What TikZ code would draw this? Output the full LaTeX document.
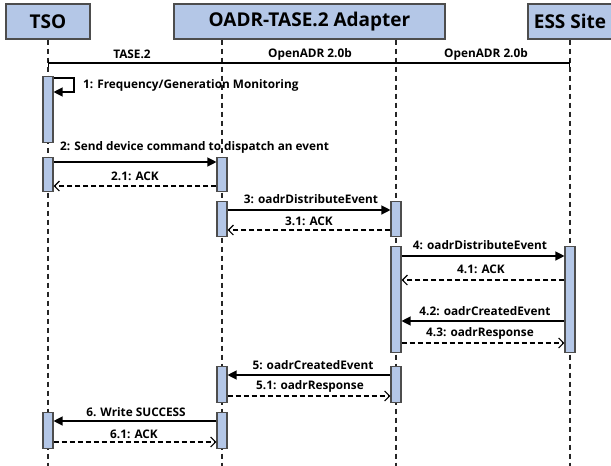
\documentclass[tikz,border=0pt]{standalone}
\usepackage{fontspec}
\setmainfont{Open Sans}
\usetikzlibrary{arrows.meta}
\definecolor{boxfill}{HTML}{B4C7E7}
\definecolor{boxline}{HTML}{4D4D4D}

\begin{document}
\begin{tikzpicture}[x=1pt,y=-1pt,
  head/.style={draw=boxline, line width=1.2pt, fill=boxfill, inner sep=0pt,
    minimum height=35pt, font=\fontsize{19}{21}\selectfont\bfseries},
  act/.style={draw=boxline, line width=1.1pt, fill=boxfill, minimum width=10pt,
    inner sep=0pt, anchor=north},
  lifeline/.style={draw=black!85, line width=1.1pt, dash pattern=on 5pt off 4pt},
  call/.style={line width=1.2pt, -{Triangle[length=9pt,width=9pt]}},
  reply/.style={line width=1.2pt, dash pattern=on 5pt off 3pt,
    -{Straight Barb[length=5pt,width=10pt,line width=1.2pt]}},
  lbl/.style={font=\fontsize{11.8}{13}\selectfont\bfseries, inner sep=0pt},
]
\useasboundingbox (0,0) rectangle (611,466);

% participants
\node[head, minimum width=84pt]  (tso) at (48,21.5)    {TSO};
\node[head, minimum width=271pt] (adp) at (309.5,21.5) {OADR-TASE.2 Adapter};
\node[head, minimum width=84pt]  (ess) at (570,21.5)   {ESS Site};

% lifelines
\coordinate (tsoEnd) at (48,466);
\coordinate (adpLEnd) at (222,466);
\coordinate (adpREnd) at (396,466);
\coordinate (essEnd) at (570,466);
\draw[lifeline] (tso.south) -- (tsoEnd);
\draw[lifeline] (adp.south -| adpLEnd) -- (adpLEnd);
\draw[lifeline] (adp.south -| adpREnd) -- (adpREnd);
\draw[lifeline] (ess.south) -- (essEnd);

% protocol bar
\coordinate (barL) at (48,63);
\coordinate (barR) at (570,63);
\draw[line width=1.1pt, {Bar[width=7pt,line width=1.1pt]}-{Bar[width=7pt,line width=1.1pt]}] (barL) -- (barR);
\node[lbl] (p1) at (132,54) {TASE.2};
\node[lbl] (p2) at (310,54) {OpenADR 2.0b};
\node[lbl] (p3) at (486,54) {OpenADR 2.0b};

% activations
\node[act, minimum height=66pt] (tsoA1) at (48,76) {};
\node[act, minimum height=34pt] (tsoA2) at (48,157) {};
\node[act, minimum height=34pt] (adpA2) at (222,157) {};
\node[act, minimum height=35pt] (adpA3) at (222,201) {};
\node[act, minimum height=35pt] (thrA3) at (396,201) {};
\node[act, minimum height=106pt] (thrA4) at (396,246) {};
\node[act, minimum height=106pt] (essA4) at (570,246) {};
\node[act, minimum height=36pt] (adpA5) at (222,366) {};
\node[act, minimum height=36pt] (thrA5) at (396,366) {};
\node[act, minimum height=36pt] (tsoA6) at (48,412) {};
\node[act, minimum height=36pt] (adpA6) at (222,412) {};

% 1: self call
\coordinate (loopR) at (74,78);
\draw[call] (tsoA1.east |- loopR) -- (loopR) -- (loopR |- 0,92) -- (tsoA1.east |- 0,92);
\node[lbl, anchor=west] (m1) at (83,85) {1: Frequency/Generation Monitoring};

% 2
\draw[call] (tsoA2.east |- 0,162) -- (adpA2.west |- 0,162);
\node[lbl, anchor=west] (m2) at (60,147) {2: Send device command to dispatch an event};
\draw[reply] (adpA2.west |- 0,186) -- (tsoA2.east |- 0,186);
\node[lbl] (m21) at (135,176) {2.1: ACK};

% 3
\draw[call] (adpA3.east |- 0,210) -- (thrA3.west |- 0,210);
\node[lbl] (m3) at (311,199) {3: oadrDistributeEvent};
\draw[reply] (thrA3.west |- 0,230) -- (adpA3.east |- 0,230);
\node[lbl] (m31) at (309,221) {3.1: ACK};

% 4
\draw[call] (thrA4.east |- 0,256) -- (essA4.west |- 0,256);
\node[lbl] (m4) at (480,245) {4: oadrDistributeEvent};
\draw[reply] (essA4.west |- 0,280) -- (thrA4.east |- 0,280);
\node[lbl] (m41) at (481,269) {4.1: ACK};
\draw[call] (essA4.west |- 0,321) -- (thrA4.east |- 0,321);
\node[lbl] (m42) at (485,311) {4.2: oadrCreatedEvent};
\draw[reply] (thrA4.east |- 0,343) -- (essA4.west |- 0,343);
\node[lbl] (m43) at (480,333) {4.3: oadrResponse};

% 5
\draw[call] (thrA5.west |- 0,375) -- (adpA5.east |- 0,375);
\node[lbl] (m5) at (313,365) {5: oadrCreatedEvent};
\draw[reply] (adpA5.east |- 0,396) -- (thrA5.west |- 0,396);
\node[lbl] (m51) at (310,386) {5.1: oadrResponse};

% 6
\draw[call] (adpA6.west |- 0,421) -- (tsoA6.east |- 0,421);
\node[lbl] (m6) at (136,412) {6. Write SUCCESS};
\draw[reply] (tsoA6.east |- 0,442) -- (adpA6.west |- 0,442);
\node[lbl] (m61) at (134,434) {6.1: ACK};
\end{tikzpicture}
\end{document}
